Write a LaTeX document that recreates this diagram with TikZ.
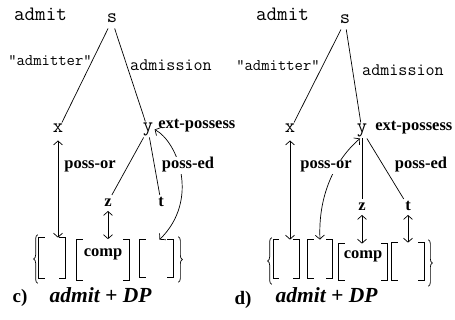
\documentclass[tikz,border=0pt]{standalone}
\usepackage{fontspec}
\setmainfont{Liberation Serif}
\usepackage{tkz-graph}
\usetikzlibrary{arrows.meta,decorations.pathreplacing}
\newcommand\Slot[1]{\draw ([xshift=6pt]#1.north west) -| (#1.south west) -- ++(6pt,0)
    ([xshift=-6pt]#1.north east) -| (#1.south east) -- ++(-6pt,0);}

\begin{document}
\begin{tikzpicture}[x=1pt,y=-1pt,line width=.7pt,>={Straight Barb[length=4pt,width=9pt]},
    mono/.style={font=\ttfamily\fontsize{#1}{#1}\selectfont,inner sep=1pt,anchor=base},
    bold/.style={font=\bfseries\fontsize{16.5}{16.5}\selectfont,inner sep=1pt,anchor=base},
    slot/.style args={#1x#2}{minimum width=#1pt,minimum height=#2pt,inner sep=0pt},
    brk/.style={decorate,decoration={brace,amplitude=4pt}},
    dbl/.style={<->,shorten <=2pt},
    caption/.style={font=\bfseries\itshape\fontsize{21.5}{21.5}\selectfont,anchor=base west}]
    \useasboundingbox (0,0) rectangle (455,320);
    \GraphInit[vstyle=Normal]
    \tikzset{VertexStyle/.style={mono=20,text height=9pt,text depth=4pt,inner sep=1.5pt},
        EdgeStyle/.style={draw,line width=.7pt}}
    \Vertex[x=112,y=23,L=s]{s1}
    \Vertex[x=58,y=133,L=x]{x1}
    \Vertex[x=148,y=132,L=y]{y1}
    \Vertex[x=345,y=24,L=s]{s2}
    \Vertex[x=290,y=133,L=x]{x2}
    \Vertex[x=362,y=133,L=y]{y2}
    \tikzset{VertexStyle/.append style={bold,text height=10pt,text depth=0pt,inner sep=2pt}}
    \Vertex[x=108,y=207,L=z]{z1}
    \Vertex[x=161,y=207,L=t]{t1}
    \Vertex[x=362,y=211,L=z]{z2}
    \Vertex[x=408,y=211,L=t]{t2}
    \Edges(x1,s1,y1)
    \Edges(z1,y1,t1)
    \Edges(x2,s2,y2)
    \Edges(z2,y2,t2)
    \node[mono=20.5] (w1) at (40.5,21) {admit};
    \node[mono=16.2] (er1) at (50,66) {"admitter"};
    \node[mono=17.6] (on1) at (171,71) {admission};
    \node[mono=20.5] (w2) at (282.5,21) {admit};
    \node[mono=16.2] (er2) at (278,71) {"admitter"};
    \node[mono=17.6] (on2) at (403,76) {admission};
    \node[slot=26x40] (b1) at (52,258) {};
    \node[slot=52x41] (c1) at (103,260) {};
    \node[slot=33x37] (b3) at (156.5,258.5) {};
    \node[slot=25x38] (r1) at (286,259) {};
    \node[slot=24x38] (r2) at (320,259) {};
    \node[slot=48x36] (c2) at (363,262) {};
    \node[slot=32x37] (r4) at (408,261.5) {};
    \Slot{b1} \Slot{c1} \Slot{b3} \Slot{r1} \Slot{r2} \Slot{c2} \Slot{r4}
    \node[bold] (cp1) at (103,257) {comp};
    \node[bold] (cp2) at (363,259) {comp};
    \draw[brk] ([xshift=-1pt,yshift=-5pt]b1.south west) -- ([xshift=-1pt,yshift=3pt]b1.north west);
    \draw[brk] ([xshift=5pt,yshift=3pt]b3.north east) -- ([xshift=5pt,yshift=-5pt]b3.south east);
    \draw[brk] ([xshift=-1.5pt,yshift=-6pt]r1.south west) -- ([xshift=-1.5pt,yshift=2pt]r1.north west);
    \draw[brk] ([xshift=4pt,yshift=3pt]r4.north east) -- ([xshift=4pt,yshift=-6pt]r4.south east);
    \draw[dbl] (x1) -- (x1 |- b1.north);
    \draw[dbl] (z1) -- (z1 |- c1.north);
    \draw[dbl] (x2) -- (x2 |- r1.north);
    \draw[dbl] (z2) -- (z2 |- c2.north);
    \draw[dbl] (t2) -- (t2 |- r4.north);
    \draw[<->] (y1.east) .. controls (178,142) and (200,200) .. ([xshift=3pt]b3.north);
    \draw[<->] ([xshift=-2pt]y2.south) .. controls (335,160) and (318,195) .. (r2.north);
    \node[bold,anchor=base west] (ex1) at (157,129) {ext-possess};
    \node[bold,anchor=base west] (ex2) at (374,131) {ext-possess};
    \node[bold] (po1) at (90,169) {poss-or};
    \node[bold,fill=white] (pe1) at (188,169) {poss-ed};
    \node[bold,fill=white] (po2) at (326,169) {poss-or};
    \node[bold] (pe2) at (421,169) {poss-ed};
    \node[font=\bfseries\fontsize{19}{19}\selectfont,anchor=base] (lc) at (20,302) {c)};
    \node[caption] (lt) at (46,302) {admit + DP};
    \node[font=\bfseries\fontsize{19}{19}\selectfont,anchor=base] (ld) at (243,305) {d)};
    \node[caption] (rt) at (272,302) {admit + DP};
\end{tikzpicture}
\end{document}
